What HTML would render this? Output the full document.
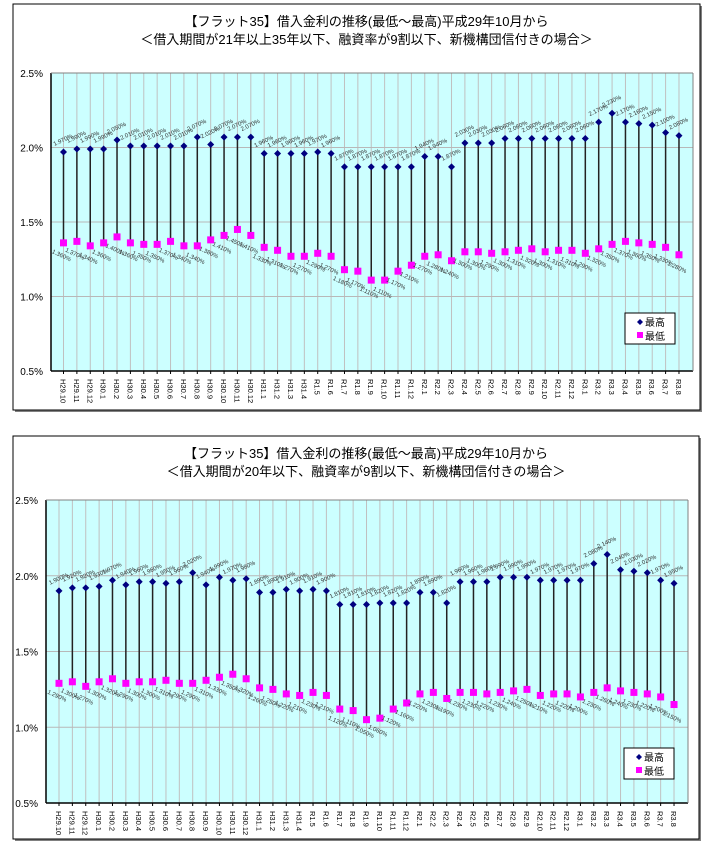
<!DOCTYPE html>
<html><head><meta charset="utf-8">
<style>
body{margin:0;background:#fff;width:711px;height:850px;overflow:hidden;font-family:"Liberation Sans","Noto Sans CJK JP",sans-serif;}
svg{position:absolute;left:0;top:0;}
</style></head>
<body>
<svg id="chart" width="711" height="850"></svg>
<script>
const categories=["H29.10","H29.11","H29.12","H30.1","H30.2","H30.3","H30.4","H30.5","H30.6","H30.7","H30.8","H30.9","H30.10","H30.11","H30.12","H31.1","H31.2","H31.3","H31.4","R1.5","R1.6","R1.7","R1.8","R1.9","R1.10","R1.11","R1.12","R2.1","R2.2","R2.3","R2.4","R2.5","R2.6","R2.7","R2.8","R2.9","R2.10","R2.11","R2.12","R3.1","R3.2","R3.3","R3.4","R3.5","R3.6","R3.7","R3.8"];
const highA=[1.97,1.99,1.99,1.99,2.05,2.01,2.01,2.01,2.01,2.01,2.07,2.02,2.07,2.07,2.07,1.96,1.96,1.96,1.96,1.97,1.96,1.87,1.87,1.87,1.87,1.87,1.87,1.94,1.94,1.87,2.03,2.03,2.03,2.06,2.06,2.06,2.06,2.06,2.06,2.06,2.17,2.23,2.17,2.16,2.15,2.10,2.08];
const lowA=[1.36,1.37,1.34,1.36,1.40,1.36,1.35,1.35,1.37,1.34,1.34,1.38,1.41,1.45,1.41,1.33,1.31,1.27,1.27,1.29,1.27,1.18,1.17,1.11,1.11,1.17,1.21,1.27,1.28,1.24,1.30,1.30,1.29,1.30,1.31,1.32,1.30,1.31,1.31,1.29,1.32,1.35,1.37,1.36,1.35,1.33,1.28];
const highB=[1.90,1.92,1.92,1.93,1.97,1.94,1.96,1.96,1.95,1.96,2.02,1.94,1.99,1.97,1.98,1.89,1.89,1.91,1.90,1.91,1.90,1.81,1.81,1.81,1.82,1.82,1.82,1.89,1.89,1.82,1.96,1.96,1.96,1.99,1.99,1.99,1.97,1.97,1.97,1.97,2.08,2.14,2.04,2.03,2.02,1.97,1.95];
const lowB=[1.29,1.30,1.27,1.30,1.32,1.29,1.30,1.30,1.31,1.29,1.29,1.31,1.33,1.35,1.32,1.26,1.25,1.22,1.21,1.23,1.21,1.12,1.11,1.05,1.06,1.12,1.16,1.22,1.23,1.19,1.23,1.23,1.22,1.23,1.24,1.25,1.21,1.22,1.22,1.20,1.23,1.26,1.24,1.23,1.22,1.20,1.15];
const yTicks=[0.5,1.0,1.5,2.0,2.5];
const yTickLabels=["0.5%","1.0%","1.5%","2.0%","2.5%"];
const titleA=["【フラット35】借入金利の推移(最低～最高)平成29年10月から","＜借入期間が21年以上35年以下、融資率が9割以下、新機構団信付きの場合＞"];
const titleB=["【フラット35】借入金利の推移(最低～最高)平成29年10月から","＜借入期間が20年以下、融資率が9割以下、新機構団信付きの場合＞"];

const svg=document.getElementById('chart');
const NS="http://www.w3.org/2000/svg";
function mk(tag,attrs,parent){const e=document.createElementNS(NS,tag);for(const k in attrs)e.setAttribute(k,attrs[k]);(parent||svg).appendChild(e);return e;}

function drawChart(cfg,high,low,title,prefix){
  const g=mk('g',{});
  
  
  mk('rect',{x:cfg.bx+2,y:cfg.by+2,width:cfg.bw,height:cfg.bh,fill:'#808080'},g);
  const fr=mk('rect',{x:cfg.bx,y:cfg.by,width:cfg.bw,height:cfg.bh,fill:'#fff',stroke:'#000','stroke-width':1},g);
  
  
  title.forEach((t,i)=>{
    const tx=mk('text',{x:cfg.bx+cfg.bw/2+10,y:cfg.by+22+i*18,'text-anchor':'middle','font-size':13,fill:'#000'},g);
    tx.textContent=t;
    
    
  });
  const y=v=>cfg.y0-(v-0.5)/2.0*(cfg.y0-cfg.y1);
  const x=i=>cfg.cx0+i*cfg.step;
  const pa=mk('rect',{x:cfg.px0,y:cfg.y1,width:cfg.px1-cfg.px0,height:cfg.y0-cfg.y1,fill:'#ccffff'},g);
  
  
  categories.forEach((c,i)=>{
    mk('line',{x1:x(i),x2:x(i),y1:cfg.y1,y2:cfg.y0,stroke:'#c0c0c0','stroke-width':1},g);
  });
  yTicks.forEach((v,i)=>{
    if(i>0&&i<yTicks.length-1)mk('line',{x1:cfg.px0,x2:cfg.px1,y1:y(v),y2:y(v),stroke:'#b8b8b8','stroke-width':1},g);
    const t=mk('text',{x:cfg.px0-8,y:y(v)+4,'text-anchor':'end','font-size':10,fill:'#000'},g);
    t.textContent=yTickLabels[i];
    
    
  });
  mk('line',{x1:cfg.px0,x2:cfg.px0,y1:cfg.y1,y2:cfg.y0,stroke:'#000','stroke-width':1.5},g);
  mk('line',{x1:cfg.px0,x2:cfg.px1,y1:cfg.y0,y2:cfg.y0,stroke:'#000','stroke-width':1.5},g);
  mk('line',{x1:cfg.px0,x2:cfg.px1,y1:cfg.y1,y2:cfg.y1,stroke:'#808080','stroke-width':1},g);
  mk('line',{x1:cfg.px1,x2:cfg.px1,y1:cfg.y1,y2:cfg.y0,stroke:'#808080','stroke-width':1},g);
  categories.forEach((c,i)=>{
    mk('line',{x1:x(i),x2:x(i),y1:cfg.y0,y2:cfg.y0+3,stroke:'#000'},g);
    const t=mk('text',{x:0,y:0,'font-size':7.5,fill:'#000',transform:`translate(${x(i)-3},${cfg.y0+8}) rotate(90)`},g);
    t.textContent=c;
    
    
    const ln=mk('line',{x1:x(i),x2:x(i),y1:y(high[i]),y2:y(low[i]),stroke:'#222','stroke-width':1.5},g);
    
    
    const hy=y(high[i]);
    const d=mk('path',{d:`M${x(i)},${hy-3.5}L${x(i)+3.5},${hy}L${x(i)},${hy+3.5}L${x(i)-3.5},${hy}Z`,fill:'#000080'},g);
    
    
    const ly=y(low[i]);
    const s=mk('rect',{x:x(i)-3.5,y:ly-3.5,width:7,height:7,fill:'#ff00ff'},g);
    
    
    const hl=mk('text',{x:0,y:0,'font-size':6,fill:'#333',transform:`translate(${x(i)-9},${hy-6}) rotate(-25)`},g);
    hl.textContent=high[i].toFixed(3)+'%';
    
    
    const ll=mk('text',{x:0,y:0,'font-size':6,fill:'#333',transform:`translate(${x(i)-12},${ly+10}) rotate(25)`},g);
    ll.textContent=low[i].toFixed(3)+'%';
    
    
  });
  const lg=mk('g',{},g);
  
  
  mk('rect',{x:cfg.lx,y:cfg.ly,width:50,height:31,fill:'#fff',stroke:'#000'},lg);
  mk('path',{d:`M${cfg.lx+15},${cfg.ly+6}L${cfg.lx+18},${cfg.ly+9}L${cfg.lx+15},${cfg.ly+12}L${cfg.lx+12},${cfg.ly+9}Z`,fill:'#000080'},lg);
  const t1=mk('text',{x:cfg.lx+20,y:cfg.ly+13,'font-size':10,fill:'#000'},lg);t1.textContent='最高';
  
  
  mk('rect',{x:cfg.lx+12,y:cfg.ly+19,width:6,height:6,fill:'#ff00ff'},lg);
  const t2=mk('text',{x:cfg.lx+20,y:cfg.ly+27,'font-size':10,fill:'#000'},lg);t2.textContent='最低';
  
  
}
drawChart({bx:13,by:4,bw:687,bh:406,px0:51,px1:693,y1:73,y0:371,cx0:63.5,step:13.38,lx:625,ly:313},highA,lowA,titleA,'top');
drawChart({bx:13,by:436,bw:686,bh:403,px0:46,px1:688,y1:500,y0:803,cx0:59,step:13.37,lx:624,ly:748},highB,lowB,titleB,'bottom');
</script>
</body></html>
